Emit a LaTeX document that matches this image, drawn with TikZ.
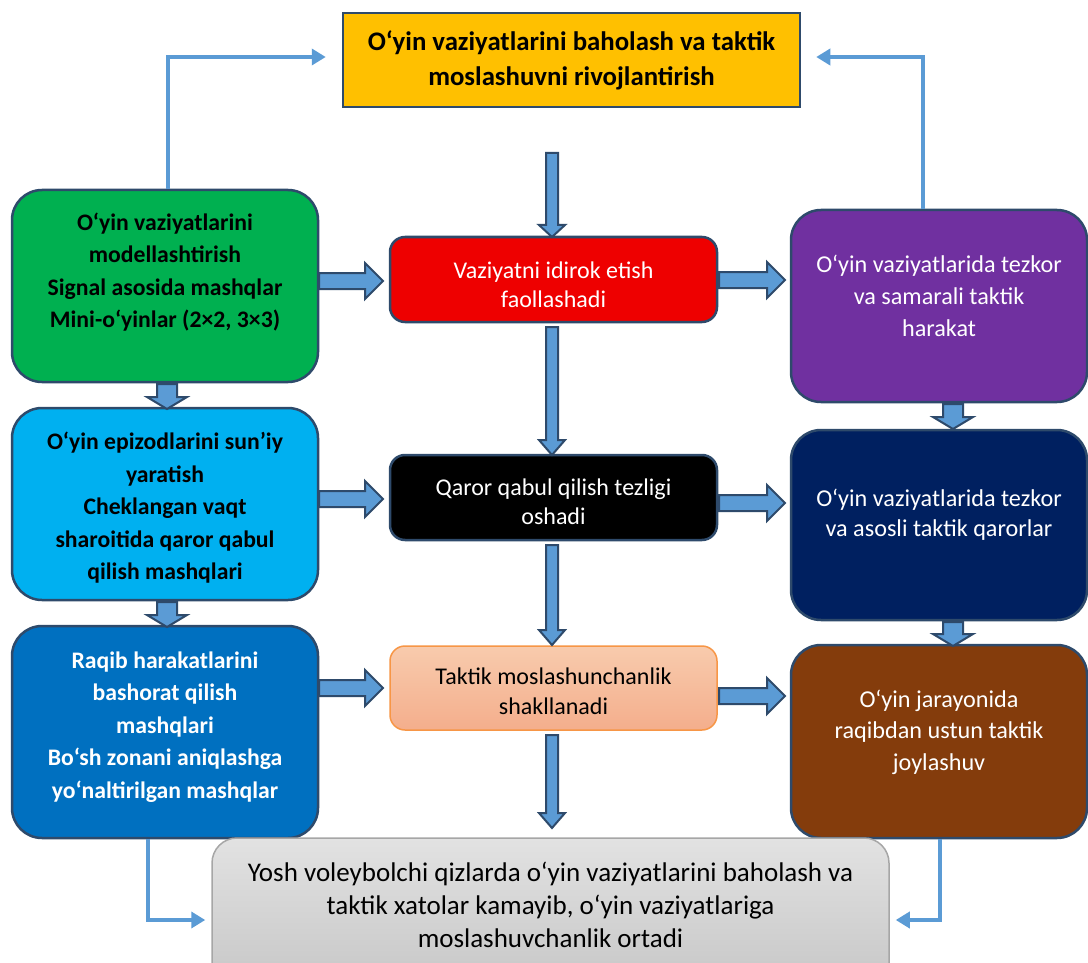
\documentclass[tikz,border=0pt]{standalone}
\usepackage{fontspec}
\setmainfont{Carlito}
\usetikzlibrary{arrows.meta,calc}
\definecolor{edge}{HTML}{2E4A6B}
\definecolor{arrowfill}{HTML}{5B9BD5}
\definecolor{cgold}{HTML}{FFC000}
\definecolor{cgreen}{HTML}{00B050}
\definecolor{ccyan}{HTML}{00B0F0}
\definecolor{cblue}{HTML}{0070C0}
\definecolor{cred}{HTML}{EE0000}
\definecolor{cpurple}{HTML}{7030A0}
\definecolor{cnavy}{HTML}{002060}
\definecolor{cbrown}{HTML}{843C0C}
\definecolor{cpeachA}{HTML}{F8CBAD}
\definecolor{cpeachB}{HTML}{F4AE8C}
\definecolor{corange}{HTML}{F79646}
\definecolor{cgrayA}{HTML}{E2E2E2}
\definecolor{cgrayB}{HTML}{C4C4C4}
\definecolor{cgrayE}{HTML}{A6A6A6}
\tikzset{
  box/.style={draw=edge,line width=2.5pt,inner sep=0pt},
  bigbox/.style={box,rounded corners=30pt,minimum width=306pt,minimum height=192pt},
  midbox/.style={box,rounded corners=15pt,minimum width=327pt,minimum height=85pt},
  rbox/.style={box,rounded corners=30pt,minimum width=296pt,minimum height=192pt},
  boldtxt/.style={align=center,font=\bfseries\fontsize{23.7}{32.5}\selectfont,inner sep=0pt},
  normtxt/.style={align=center,font=\fontsize{24}{29.5}\selectfont,inner sep=0pt},
  fat/.style={draw=edge,line width=2pt,fill=arrowfill,line join=miter},
  conn/.style={draw=arrowfill,line width=3.5pt,-{Triangle[length=14pt,width=16pt]}}
}
\newcommand\fatright[3]{\draw[fat] (#1,#3-8) -- (#2-18,#3-8) -- (#2-18,#3-18) -- (#2,#3) -- (#2-18,#3+18) -- (#2-18,#3+8) -- (#1,#3+8) -- cycle;}
\newcommand\fatdown[6]{\draw[fat] (#1-#4,#2) -- (#1-#4,#3-#6) -- (#1-#5,#3-#6) -- (#1,#3) -- (#1+#5,#3-#6) -- (#1+#4,#3-#6) -- (#1+#4,#2) -- cycle;}
\begin{document}
\begin{tikzpicture}[x=1pt,y=-1pt]
\useasboundingbox (0,0) rectangle (1088,963);
\clip (0,0) rectangle (1088,963);
\fill[white] (0,0) rectangle (1088,963);

% top box
\node[box,fill=cgold,minimum width=457pt,minimum height=94pt] (top) at (571.5,60) {};
\node[boldtxt,font=\bfseries\fontsize{26.8}{35}\selectfont] (toptxt) at (571.5,60) {O‘yin vaziyatlarini baholash va taktik\\moslashuvni rivojlantirish};

% left column
\node[bigbox,fill=cgreen] (g) at (165,286) {};
\node[boldtxt] (gtxt) at (165,272) {O‘yin vaziyatlarini\\modellashtirish\\Signal asosida mashqlar\\Mini-o‘yinlar (2×2, 3×3)};
\node[bigbox,fill=ccyan] (c) at (165,504) {};
\node[boldtxt] (ctxt) at (165,508) {O‘yin epizodlarini sun’iy\\yaratish\\Cheklangan vaqt\\sharoitida qaror qabul\\qilish mashqlari};
\node[bigbox,fill=cblue,minimum height=212pt] (b) at (165,732) {};
\node[boldtxt,text=white] (btxt) at (165,727) {Raqib harakatlarini\\bashorat qilish\\mashqlari\\Bo‘sh zonani aniqlashga\\yo‘naltirilgan mashqlar};

% middle column
\node[midbox,fill=cred] (r) at (553.5,279.5) {};
\node[normtxt,text=white] (rtxt) at (553.5,285) {Vaziyatni idirok etish\\faollashadi};
\node[midbox,fill=black] (k) at (553.5,497.5) {};
\node[normtxt,text=white] (ktxt) at (553.5,502) {Qaror qabul qilish tezligi\\oshadi};
\node[midbox,draw=corange,line width=1.5pt,top color=cpeachA,bottom color=cpeachB,minimum height=84pt] (pe) at (553.5,688) {};
\node[normtxt] (petxt) at (553.5,691.5) {Taktik moslashunchanlik\\shakllanadi};

% right column
\node[rbox,fill=cpurple] (p) at (939,306) {};
\node[normtxt,text=white,font=\fontsize{24.2}{32}\selectfont] (ptxt) at (939,296) {O‘yin vaziyatlarida tezkor\\va samarali taktik\\harakat};
\node[rbox,fill=cnavy,minimum height=190pt] (n) at (939,525) {};
\node[normtxt,text=white,font=\fontsize{24.2}{30}\selectfont] (ntxt) at (939,515) {O‘yin vaziyatlarida tezkor\\va asosli taktik qarorlar};
\node[rbox,fill=cbrown,minimum height=193pt] (br) at (939,741.5) {};
\node[normtxt,text=white,font=\fontsize{24.2}{31.5}\selectfont] (brtxt) at (939,732) {O‘yin jarayonida\\raqibdan ustun taktik\\joylashuv};

% bottom box
\node[box,draw=cgrayE,line width=1.5pt,rounded corners=25pt,top color=cgrayA,bottom color=cgrayB,minimum width=677pt,minimum height=164pt] (gray) at (550.5,920) {};
\node[normtxt,font=\fontsize{27}{33}\selectfont] (graytxt) at (550.5,905) {Yosh voleybolchi qizlarda o‘yin vaziyatlarini baholash va\\taktik xatolar kamayib, o‘yin vaziyatlariga\\moslashuvchanlik ortadi};

% thin connectors
\draw[conn] ([xshift=3pt]g.north) |- ($(top.west)+(-16,-3)$);
\draw[conn] ([xshift=-16pt]p.north) |- ($(top.east)+(15,-3)$);
\draw[conn] ([xshift=-17pt]b.south) |- ($(gray.west)+(-6,0)$);
\draw[conn] ([xshift=1pt]br.south) |- ($(gray.east)+(6,0)$);

% fat horizontal arrows
\fatright{319}{383}{281}
\fatright{319}{383}{499}
\fatright{319}{383}{688}
\fatright{719}{785}{280}
\fatright{719}{785}{503}
\fatright{719}{785}{696}

% fat down arrows (side columns)
\fatdown{167}{384}{409}{10}{20}{12}
\fatdown{167}{602}{627}{10}{20}{12}
\fatdown{953}{404}{429}{10}{20}{12}
\fatdown{953}{622}{646}{10}{20}{12}

% fat down arrows (centre)
\fatdown{552}{153}{237}{6}{13}{12}
\fatdown{552}{327}{455}{6}{13}{15}
\fatdown{552}{545}{645}{6}{13}{15}
\fatdown{552}{735}{828}{6}{13}{15}
\end{tikzpicture}
\end{document}
